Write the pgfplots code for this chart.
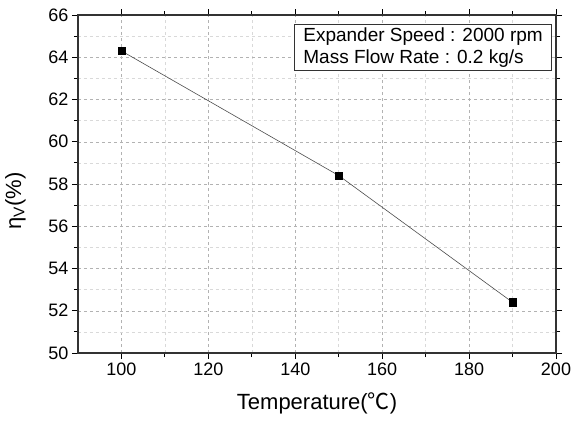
\documentclass[border=0pt]{standalone}
\usepackage{pgfplots}
\pgfplotsset{compat=1.18}
\usepackage{fontspec}
\setmainfont{Liberation Sans}
\newfontfamily\cjk{Noto Sans CJK KR}
\begin{document}
\begin{tikzpicture}
\begin{axis}[
    name=ax,
    scale only axis,
    width=478pt, height=338pt,
    xmin=90, xmax=200,
    ymin=50, ymax=66,
    xtick={100,120,...,200},
    ytick={50,52,...,66},
    minor x tick num=1,
    minor y tick num=1,
    tick align=outside,
    major tick length=6pt,
    minor tick length=4pt,
    tick style={black, line width=1pt},
    axis line style={line width=1.2pt, black!80},
    grid=both,
    major grid style={dashed, gray!60, line width=0.5pt},
    minor grid style={dashed, gray!30, line width=0.5pt},
    ticklabel style={font=\fontsize{18}{20}\selectfont},
    /pgf/number format/assume math mode=true,
    xlabel={Temperature({\cjk ℃})},
    ylabel={η\textsubscript{V}(\%)},
    xlabel style={font=\fontsize{22}{24}\selectfont},
    xlabel shift=11pt,
    ylabel style={font=\fontsize{22}{24}\selectfont, xshift=-17pt},
    ylabel shift=16pt,
]
\addplot[color=black!70, line width=0.6pt, mark=square*, mark size=3.6pt,
    mark options={black, solid}] coordinates {
    (100, 64.3)
    (150, 58.4)
    (190, 52.4)
};
\node[draw=black!80, line width=0.8pt, anchor=north east, align=left,
    font=\fontsize{19}{22}\selectfont, inner xsep=9pt, inner ysep=3pt,
    fill=white]
    at (rel axis cs:0.992,0.973)
    {Expander Speed : 2000 rpm\\Mass Flow Rate : 0.2 kg/s};
\end{axis}
\pgfresetboundingbox
\path[use as bounding box] ([shift={(-78pt,-68pt)}]ax.south west)
    rectangle ([shift={(17pt,15pt)}]ax.north east);
\end{tikzpicture}
\end{document}
